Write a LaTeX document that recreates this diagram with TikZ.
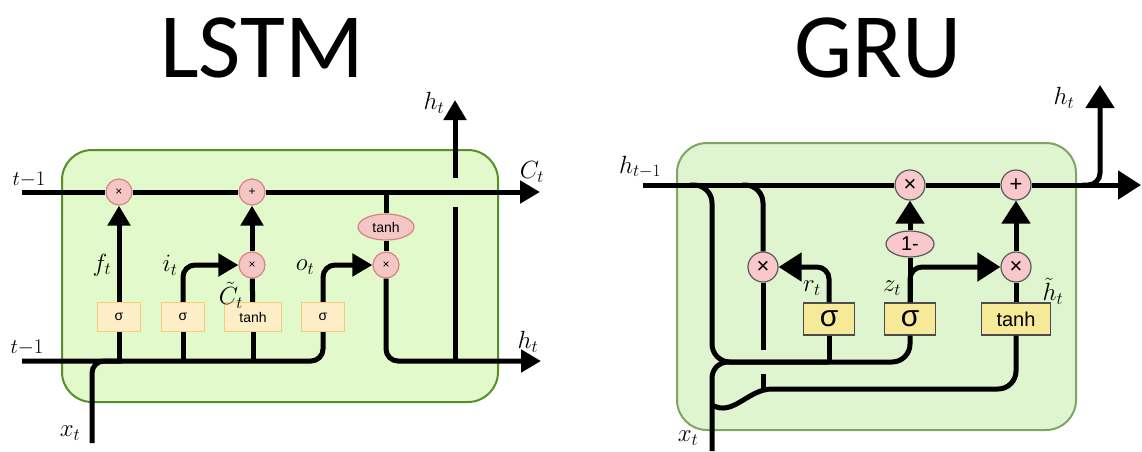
\documentclass[tikz,border=0pt]{standalone}
\usepackage{fontspec}
\usepackage{amsmath}
\usepackage{xcolor}
\usepackage{tikz}
\usetikzlibrary{arrows.meta, positioning, shapes.geometric}
\newfontfamily\titlefont{Carlito}
\newfontfamily\gatefont{Liberation Sans}
\definecolor{LstmFill}{RGB}{226,249,203}
\definecolor{LstmEdge}{RGB}{84,145,40}
\definecolor{LstmPink}{RGB}{245,198,198}
\definecolor{LstmPinkEdge}{RGB}{214,130,130}
\definecolor{LstmGate}{RGB}{253,238,200}
\definecolor{LstmGateEdge}{RGB}{242,205,120}
\definecolor{GruFill}{RGB}{222,245,208}
\definecolor{GruEdge}{RGB}{125,165,100}
\definecolor{GruPink}{RGB}{248,200,205}
\definecolor{GruGate}{RGB}{246,234,152}
\tikzset{
  % Titoli
  title/.style={font=\titlefont\fontsize{92}{96}\selectfont,inner sep=0pt},
  % Celle
  cell lstm/.style={draw=LstmEdge,fill=LstmFill,line width=2pt,rounded corners=30pt},
  cell gru/.style={draw=GruEdge,fill=GruFill,line width=2pt,rounded corners=30pt},
  % Operazioni e porte LSTM
  op lstm/.style={circle,draw=LstmPinkEdge,fill=LstmPink,line width=1.2pt,minimum size=26pt,inner sep=0pt,font=\gatefont\fontsize{12}{12}\selectfont},
  ell lstm/.style={ellipse,draw=LstmPinkEdge,fill=LstmPink,line width=1.2pt,minimum width=56pt,minimum height=26pt,inner sep=0pt,font=\gatefont\fontsize{14}{14}\selectfont},
  gate lstm/.style={rectangle,draw=LstmGateEdge,fill=LstmGate,line width=1.2pt,minimum width=43pt,minimum height=29pt,inner sep=2pt,font=\gatefont\fontsize{14}{14}\selectfont},
  % Operazioni e porte GRU
  op gru/.style={circle,draw=black!65,fill=GruPink,line width=1.2pt,minimum size=30pt,inner sep=0pt,font=\gatefont\fontsize{22}{22}\selectfont},
  ell gru/.style={ellipse,draw=black!65,fill=GruPink,line width=1.2pt,minimum width=48pt,minimum height=26pt,inner sep=0pt,font=\gatefont\fontsize{20}{20}\selectfont},
  gate gru/.style={rectangle,draw=black!70,fill=GruGate,line width=1.2pt,minimum width=51pt,minimum height=32pt,inner sep=2pt,font=\gatefont\fontsize{20}{20}\selectfont},
  sigma gru/.style={gate gru,font=\gatefont\fontsize{30}{30}\selectfont},
  % Connessioni
  wire/.style={line width=5pt,rounded corners=12pt},
  arrow lstm/.style={wire,-{Triangle[length=20pt,width=22pt]}},
  arrow gru/.style={wire,-{Triangle[length=23pt,width=28pt]}},
  % Etichette
  lab lstm/.style={inner sep=0pt,font=\fontsize{25}{27}\selectfont},
  lab small/.style={inner sep=0pt,font=\fontsize{20}{22}\selectfont},
  lab gru/.style={inner sep=0pt,font=\fontsize{27}{29}\selectfont}
}

\begin{document}
\begin{tikzpicture}[x=1pt,y=-1pt]
  \useasboundingbox (0,0) rectangle (1142,451);
  \node[title,anchor=base] (lstmtitle) at (262,77) {LSTM};
  \node[title,anchor=base] (grutitle) at (878,77) {GRU};

  % LSTM
  \draw[cell lstm] (62,150) rectangle (498,402);
  \node[op lstm] (fx) at (119,192) {×};
  \node[op lstm] (ad) at (252,192) {+};
  \node[op lstm] (ix) at (252,265) {×};
  \node[op lstm] (ox) at (386,265) {×};
  \node[ell lstm] (th) at (386,227) {tanh};
  \node[gate lstm] (fs) at (119,317) {σ};
  \node[gate lstm] (is) at (183,317) {σ};
  \node[gate lstm,minimum width=57pt] (ct) at (253,317) {tanh};
  \node[gate lstm] (os) at (323,317) {σ};
  \coordinate (cin) at (22,192);
  \coordinate (cout) at (540,192);
  \coordinate (hin) at (22,361);
  \coordinate (hout) at (541,361);
  \coordinate (xin) at (92,443);
  \coordinate (ctap) at (386,192);
  \coordinate (hsplit) at (455,361);
  \coordinate (hgapb) at (455,207);
  \coordinate (hgapt) at (455,178);
  \coordinate (hup) at (455,100);

  \draw[wire] (cin) -- (fx);
  \draw[wire] (fx) -- (ad);
  \draw[arrow lstm] (ad) -- (cout);
  \draw[wire] (hin) -| (os);
  \draw[wire] (xin) |- ([xshift=30pt]xin |- hin);
  \draw[wire] (fs) -- (fs |- hin);
  \draw[wire] (is) -- (is |- hin);
  \draw[wire] (ct) -- (ct |- hin);
  \draw[arrow lstm] (fs) -- (fx);
  \draw[arrow lstm] (is) |- (ix);
  \draw[wire] (ct) -- (ix);
  \draw[arrow lstm] (ix) -- (ad);
  \draw[arrow lstm] (os) |- (ox);
  \draw[wire] (ctap) -- (th);
  \draw[wire] (th) -- (ox);
  \draw[arrow lstm] (ox) |- (hout);
  \draw[wire] (hsplit) -- (hgapb);
  \draw[arrow lstm] (hgapt) -- (hup);

  \node[lab small] (cprev) at (29,180) {$t{-}1$};
  \node[lab small] (hprevl) at (27,348) {$t{-}1$};
  \node[lab lstm] (ctl) at (532,172) {$C_t$};
  \node[lab lstm] (htup) at (434,103) {$h_t$};
  \node[lab lstm] (htr) at (528,342) {$h_t$};
  \node[lab lstm] (xtl) at (70,433) {$x_t$};
  \node[lab lstm] (ftl) at (102,265) {$f_t$};
  \node[lab lstm] (itl) at (170,265) {$i_t$};
  \node[lab lstm] (ctil) at (231,295) {$\tilde{C}_t$};
  \node[lab lstm] (otl) at (305,267) {$o_t$};

  % GRU
  \draw[cell gru] (677,143) rectangle (1076,430);
  \node[op gru] (rx) at (763,267) {×};
  \node[op gru] (zx) at (910,185) {×};
  \node[op gru] (ad2) at (1016,185) {+};
  \node[op gru] (hx) at (1016,267) {×};
  \node[ell gru] (om) at (910,244) {1-};
  \node[sigma gru] (rs) at (829,319) {σ};
  \node[sigma gru] (zs) at (910,319) {σ};
  \node[gate gru,minimum width=69pt] (hs) at (1016,319) {tanh};
  \coordinate (hprev) at (643,185);
  \coordinate (hnext) at (1141,185);
  \coordinate (hbend) at (1082,185);
  \coordinate (hupg) at (1100,85);
  \coordinate (tap1) at (690,185);
  \coordinate (tap2) at (742,185);
  \coordinate (join) at (712,362);
  \coordinate (xt2) at (712,451);
  \coordinate (gapa) at (763,350);
  \coordinate (gapb) at (763,374);
  \coordinate (lowstart) at (712,405);
  \coordinate (low) at (772,389);

  \draw[wire] (hprev) -- (zx);
  \draw[wire] (zx) -- (ad2);
  \draw[arrow gru] (ad2) -- (hnext);
  \draw[arrow gru] (hbend) -| (hupg);
  \draw[wire,rounded corners=18pt] (tap1) -| (join) -| (zs);
  \draw[wire,rounded corners=16pt] (xt2) |- (rs |- join);
  \draw[wire] (rs) -- (rs |- join);
  \draw[wire,rounded corners=18pt] (tap2) -| (rx);
  \draw[wire] (rx) -- (gapa);
  \draw[wire] (gapb) -- (gapb |- low);
  \draw[wire] (lowstart) to[out=-30,in=180] (low);
  \draw[wire,rounded corners=18pt] (low) -| (hs);
  \draw[arrow gru] (rs) |- (rx);
  \draw[wire] (zs) -- (om);
  \draw[arrow gru] (om) -- (zx);
  \draw[arrow gru] (zs) |- (hx);
  \draw[wire] (hs) -- (hx);
  \draw[arrow gru] (hx) -- (ad2);

  \node[lab gru] (hprevg) at (640,167) {$h_{t-1}$};
  \node[lab gru] (htg) at (1064,98) {$h_t$};
  \node[lab gru] (rtl) at (812,288) {$r_t$};
  \node[lab gru] (ztl) at (892,288) {$z_t$};
  \node[lab gru] (htil) at (1053,291) {$\tilde{h}_t$};
  \node[lab gru] (xtg) at (688,438) {$x_t$};
\end{tikzpicture}
\end{document}
